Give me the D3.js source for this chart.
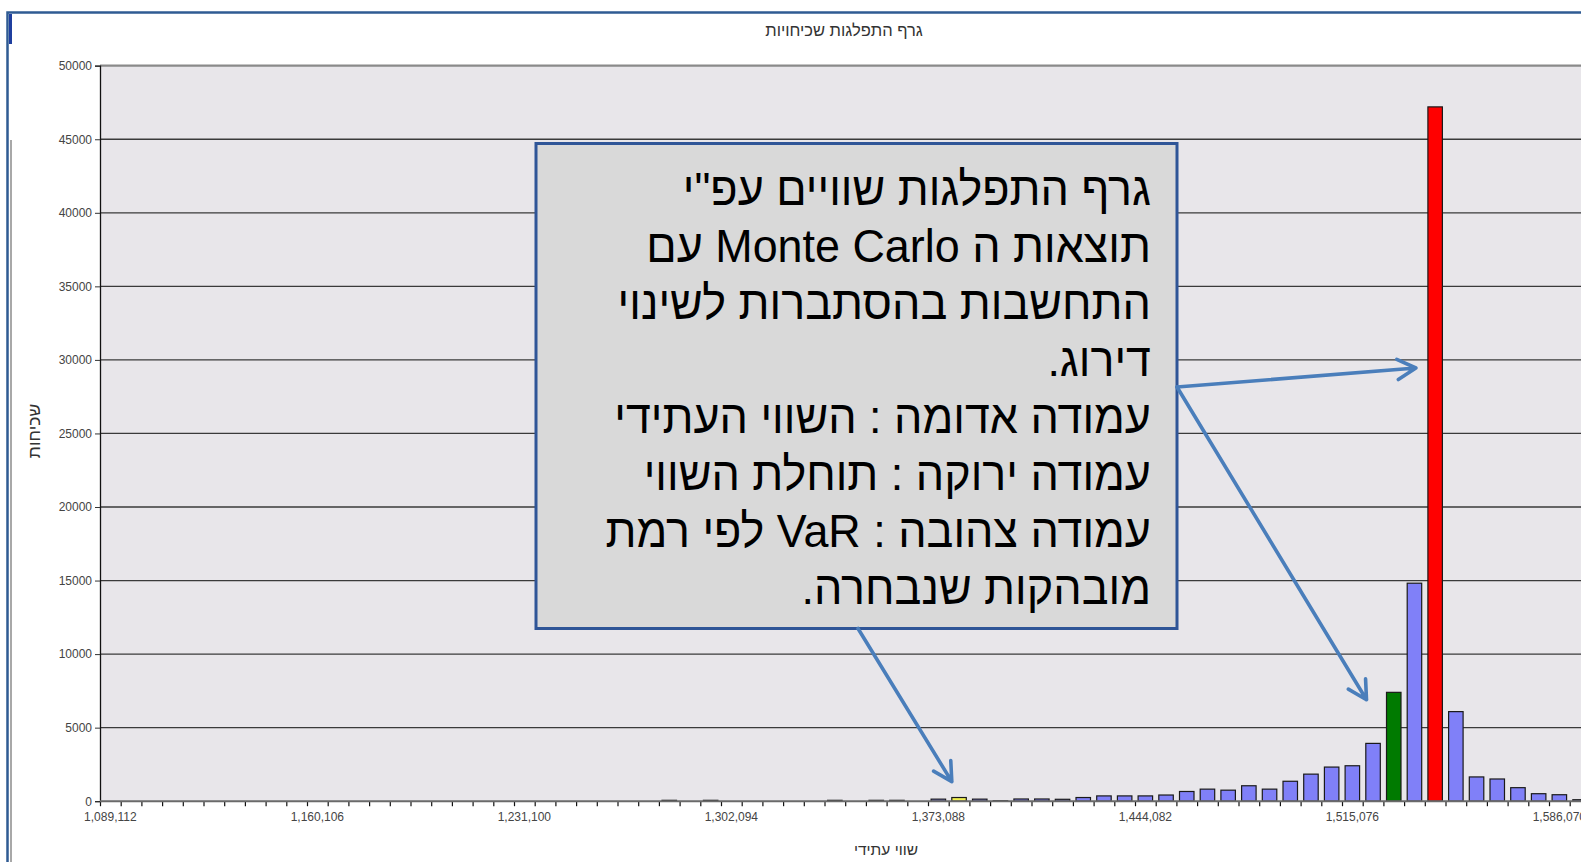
<!DOCTYPE html>
<html><head><meta charset="utf-8">
<script src="https://cdn.jsdelivr.net/npm/d3@7"></script>
<style>
html,body{margin:0;padding:0;background:#fff;overflow:hidden}
svg{display:block}
</style></head>
<body>
<script>
// ---- data ----
const counts = [
  0,0,0,0,0,0,0,0,0,0,
  0,0,0,0,0,0,0,0,0,0,
  0,0,0,0,0,0,0,60,0,60,
  0,0,0,0,0,60,0,60,60,0,
  140,250,140,30,150,150,130,250,360,360,
  360,420,660,820,750,1050,820,1355,1840,2320,
  2410,3930,7400,14820,47200,6090,1650,1510,920,510,
  440,100
];
const tickBins   = [0,10,20,30,40,50,60,70];
const tickLabels = ["1,089,112","1,160,106","1,231,100","1,302,094","1,373,088","1,444,082","1,515,076","1,586,070"];
const yTicks     = [0,5000,10000,15000,20000,25000,30000,35000,40000,45000,50000];
const specialBins   = [41,62,64];           // VaR, expected value, future value
const specialColors = ["#f2f250","#007a00","#ff0000"];
const chartTitle = "גרף התפלגות שכיחויות";
const xTitle = "שווי עתידי";
const yTitle = "שכיחות";
const noteLines = [
  'גרף התפלגות שוויים עפ"י',
  'תוצאות ה Monte Carlo עם',
  'התחשבות בהסתברות לשינוי',
  'דירוג.',
  'עמודה אדומה : השווי העתידי',
  'עמודה ירוקה : תוחלת השווי',
  'עמודה צהובה : VaR לפי רמת',
  'מובהקות שנבחרה.'
];

// ---- layout ----
const W = 1581, H = 862;
const mLeft = 100, mTop = 65.7, mBottom = 801.2, binPx = 20.7;
const nBins = counts.length;

const svg = d3.select("body").append("svg").attr("width", W).attr("height", H);
svg.append("rect").attr("width", W).attr("height", H).attr("fill", "#fff");

// window frame
svg.append("path").attr("d", `M7.5,${H} V12.5 H${W+5}`).attr("fill","none")
  .attr("stroke","#2f5b93").attr("stroke-width",2.5);
svg.append("rect").attr("x",9).attr("y",14).attr("width",3).attr("height",30).attr("fill","#1f3f9f");
svg.append("line").attr("x1",11).attr("x2",11).attr("y1",140).attr("y2",H)
  .attr("stroke","#a8a8a8").attr("stroke-width",2);

const xBand = d3.scaleBand().domain(d3.range(nBins))
  .range([mLeft, mLeft + nBins*binPx]).paddingInner(0.3).paddingOuter(0.15);
const xEdge = d3.scaleLinear().domain([0, nBins]).range([mLeft, mLeft + nBins*binPx]);
const y = d3.scaleLinear().domain([0, 50000]).range([mBottom, mTop]);

const font = "'Liberation Sans', Arial, sans-serif";

// plot background
svg.append("rect").attr("x", mLeft).attr("y", mTop)
  .attr("width", W - mLeft + 20).attr("height", mBottom - mTop).attr("fill", "#e8e6ea");

// gridlines
svg.append("g").selectAll("line").data(yTicks.filter(d => d > 0 && d < 50000)).join("line")
  .attr("x1", mLeft).attr("x2", W + 20)
  .attr("y1", d => y(d)).attr("y2", d => y(d))
  .attr("stroke", "#3a3a3a").attr("stroke-width", 1.3);
svg.append("line").attr("x1", mLeft).attr("x2", W+20).attr("y1", y(50000)).attr("y2", y(50000))
  .attr("stroke", "#8a8a8a").attr("stroke-width", 2.2);

// bars
svg.append("g").selectAll("rect").data(counts.map((v,i)=>({i,v})).filter(d => d.v > 0)).join("rect")
  .attr("x", d => xBand(d.i)).attr("width", xBand.bandwidth())
  .attr("y", d => y(d.v)).attr("height", d => mBottom - y(d.v))
  .attr("fill", d => { const k = specialBins.indexOf(d.i); return k >= 0 ? specialColors[k] : "#8080f8"; })
  .attr("stroke", "#1a1a1a").attr("stroke-width", 1.2);

// y axis
const yAxis = svg.append("g").attr("transform", `translate(${mLeft},0)`)
  .call(d3.axisLeft(y).tickValues(yTicks).tickSize(5).tickPadding(3).tickFormat(d3.format("d")));
yAxis.select(".domain").attr("stroke", "#111").attr("stroke-width", 1.3);
yAxis.selectAll(".tick line").attr("stroke", "#333");
yAxis.selectAll("text").attr("font-family", font).attr("font-size", 12).attr("fill", "#444");

// x axis: bin edge ticks
const xTickAxis = svg.append("g").attr("transform", `translate(0,${mBottom})`)
  .call(d3.axisBottom(xEdge).tickValues(d3.range(0, nBins+1)).tickSize(5).tickFormat(""));
xTickAxis.select(".domain").remove();
xTickAxis.selectAll(".tick line").attr("stroke", "#111").attr("stroke-width", 1.2);
svg.append("line").attr("x1", mLeft).attr("x2", W+20).attr("y1", mBottom).attr("y2", mBottom)
  .attr("stroke", "#6a6a6a").attr("stroke-width", 2);

// x labels at bin centers
const xLabAxis = svg.append("g").attr("transform", `translate(0,${mBottom})`)
  .call(d3.axisBottom(xBand).tickValues(tickBins).tickSize(0).tickPadding(11)
    .tickFormat(d => tickLabels[tickBins.indexOf(d)]));
xLabAxis.select(".domain").remove();
xLabAxis.selectAll("text").attr("font-family", font).attr("font-size", 12).attr("fill", "#444");

// titles
svg.append("text").attr("x", 844).attr("y", 36).attr("text-anchor", "middle")
  .attr("font-family", font).attr("font-size", 16.5).attr("fill", "#333").text(chartTitle);
svg.append("text").attr("x", 886).attr("y", 855).attr("text-anchor", "middle")
  .attr("font-family", font).attr("font-size", 15.5).attr("fill", "#333").text(xTitle);
svg.append("text").attr("transform", "translate(39.5,431) rotate(-90)").attr("text-anchor", "middle")
  .attr("font-family", font).attr("font-size", 17.5).attr("fill", "#333").text(yTitle);

// annotation box
const box = {x: 536, y: 143.5, w: 641, h: 485};
svg.append("rect").attr("x", box.x).attr("y", box.y).attr("width", box.w).attr("height", box.h)
  .attr("fill", "#d9d9d9").attr("stroke", "#2f5597").attr("stroke-width", 3);

const textRight = 1151, sx = 0.955;
const tg = svg.append("g").attr("transform", `translate(${textRight},0) scale(${sx},1) translate(${-textRight},0)`);
tg.selectAll("text").data(noteLines).join("text")
  .attr("x", textRight).attr("y", (d,i) => 204.8 + i*57)
  .attr("direction", "rtl").attr("text-anchor", "start")
  .attr("font-family", font).attr("font-size", 47).attr("fill", "#000")
  .text(d => d);

// arrows
const arrowColor = "#4a7ebb";
function arrow(x1, y1, x2, y2) {
  const a = Math.atan2(y2 - y1, x2 - x1), L = 21, h = 0.5;
  const p1 = [x2 - L*Math.cos(a - h), y2 - L*Math.sin(a - h)];
  const p2 = [x2 - L*Math.cos(a + h), y2 - L*Math.sin(a + h)];
  svg.append("path")
    .attr("d", `M${x1},${y1} L${x2},${y2} M${p1[0]},${p1[1]} L${x2},${y2} L${p2[0]},${p2[1]}`)
    .attr("fill", "none").attr("stroke", arrowColor).attr("stroke-width", 3.6)
    .attr("stroke-linecap", "round").attr("stroke-linejoin", "round");
}
const startR = [box.x + box.w, 387];
arrow(startR[0], startR[1], xBand(64) - 12, y(29450));
arrow(startR[0], startR[1], xBand(62) - 20, y(6900));
arrow(858, box.y + box.h, xBand(41), y(1330));
</script>
</body></html>
